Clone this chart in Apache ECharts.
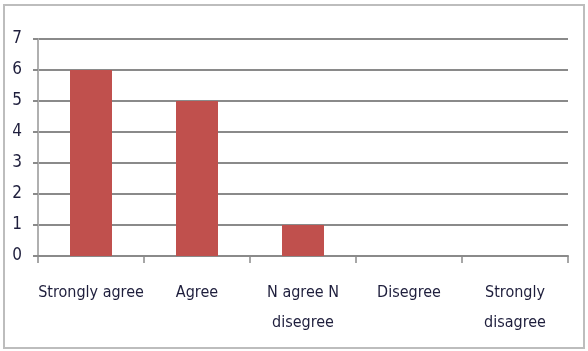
<!DOCTYPE html>
<html><head><meta charset="utf-8">
<script src="https://cdn.jsdelivr.net/npm/echarts@6/dist/echarts.min.js"></script>
<style>html,body{margin:0;padding:0;background:#fff}#c{width:588px;height:351px}</style>
</head><body><div id="c"></div>
<script>
const categories = ['Strongly agree', 'Agree', 'N agree N\ndisegree', 'Disegree', 'Strongly\ndisagree'];
const values = [6, 5, 1, 0, 0];
const yTicks = [0, 7, 1];

const chart = echarts.init(document.getElementById('c'));
const font = "'Liberation Sans Narrow', 'DejaVu Sans Condensed', 'Open Sans', sans-serif";
chart.setOption({
  animation: false,
  graphic: [{type: 'rect', shape: {x: 4, y: 5, width: 580, height: 343}, style: {fill: 'none', stroke: '#bdbdbd', lineWidth: 2}}],
  grid: {left: 38, right: 20, top: 39, bottom: 95},
  xAxis: {
    type: 'category', data: categories,
    axisLine: {lineStyle: {color: '#8a8a8a', width: 2}},
    axisTick: {show: true, length: 7, lineStyle: {color: '#8a8a8a', width: 1.5}},
    axisLabel: {interval: 0, color: '#1e1e3c', fontFamily: font, fontSize: 16, margin: 22, lineHeight: 30}
  },
  yAxis: {
    type: 'value', min: yTicks[0], max: yTicks[1], interval: yTicks[2],
    axisLine: {show: true, lineStyle: {color: '#b0b0b0', width: 2}},
    axisTick: {show: true, length: 5, lineStyle: {color: '#8a8a8a', width: 2}},
    splitLine: {lineStyle: {color: '#8a8a8a', width: 2}},
    axisLabel: {color: '#1e1e3c', fontFamily: font, fontSize: 17, margin: 16}
  },
  series: [{type: 'bar', data: values, barWidth: 42, itemStyle: {color: '#c0504d'}}]
});
</script></body></html>
